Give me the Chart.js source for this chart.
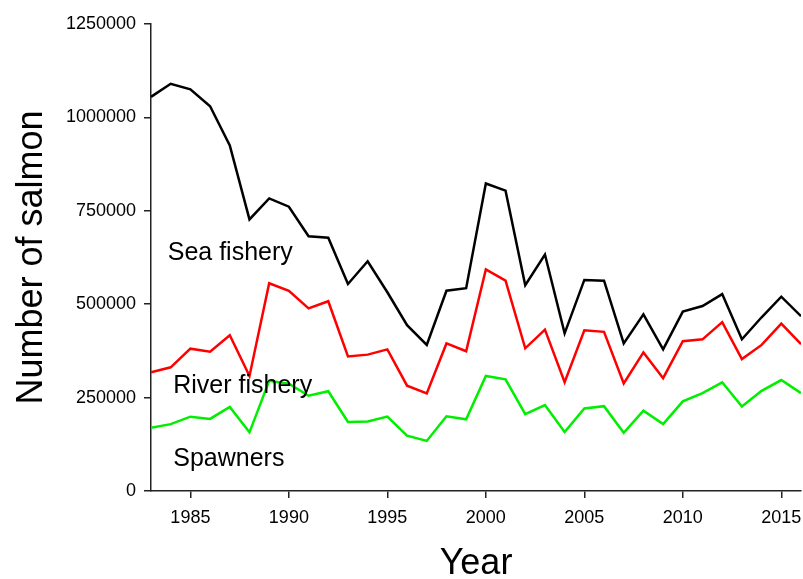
<!DOCTYPE html>
<html>
<head>
<meta charset="utf-8">
<script src="https://cdn.jsdelivr.net/npm/chart.js@4/dist/chart.umd.min.js"></script>
<style>
  html, body { margin: 0; padding: 0; background: #fff; }
  #wrap { width: 803px; height: 579px; }
</style>
</head>
<body>
<div id="wrap"><canvas id="c" width="803" height="579"></canvas></div>
<script>
// Annual salmon numbers by fate, 1983-2016
const years = [1983, 1984, 1985, 1986, 1987, 1988, 1989, 1990, 1991, 1992,
               1993, 1994, 1995, 1996, 1997, 1998, 1999, 2000, 2001, 2002,
               2003, 2004, 2005, 2006, 2007, 2008, 2009, 2010, 2011, 2012,
               2013, 2014, 2015, 2016];

const seaFishery = [1055000, 1090000, 1075000, 1030000, 925000, 727000, 783000, 761000, 682000, 678000,
                    554000, 615000, 532000, 444000, 391000, 536000, 543000, 823000, 804000, 551000,
                    633000, 422000, 565000, 563000, 395000, 473000, 379000, 480000, 495000, 527000,
                    406000, 465000, 520000, 468000];

const riverFishery = [318000, 331000, 381000, 373000, 417000, 308000, 556000, 536000, 489000, 508000,
                      360000, 365000, 379000, 282000, 261000, 395000, 374000, 593000, 563000, 382000,
                      432000, 291000, 430000, 426000, 288000, 371000, 302000, 401000, 406000, 452000,
                      353000, 391000, 448000, 393000];

const spawners = [169000, 179000, 199000, 193000, 225000, 157000, 295000, 287000, 255000, 267000,
                  185000, 186000, 199000, 148000, 134000, 200000, 192000, 308000, 299000, 206000,
                  230000, 158000, 221000, 227000, 156000, 215000, 179000, 240000, 262000, 291000,
                  226000, 268000, 297000, 262000];

const xTickYears = [1985, 1990, 1995, 2000, 2005, 2010, 2015];
const yTickValues = [0, 250000, 500000, 750000, 1000000, 1250000];
const seriesNames = ['Sea fishery', 'River fishery', 'Spawners'];

const FONT = 'Liberation Sans, Arial, Helvetica, sans-serif';

const toPoints = vals => vals.map((v, i) => ({ x: years[i], y: v }));

// Series names written inside the plot, next to the lines they describe
const seriesLabels = {
  id: 'seriesLabels',
  afterDatasetsDraw(chart) {
    const { ctx, scales: { x, y } } = chart;
    const anchors = [
      { text: seriesNames[0], x: 1983.85, y: 618000 },
      { text: seriesNames[1], x: 1984.13, y: 262000 },
      { text: seriesNames[2], x: 1984.13, y: 66000 }
    ];
    ctx.save();
    ctx.font = '25px ' + FONT;
    ctx.fillStyle = '#000';
    ctx.textAlign = 'left';
    ctx.textBaseline = 'alphabetic';
    anchors.forEach(a => ctx.fillText(a.text, x.getPixelForValue(a.x), y.getPixelForValue(a.y)));
    ctx.restore();
  }
};

new Chart(document.getElementById('c'), {
  type: 'line',
  data: {
    datasets: [
      { label: seriesNames[0], data: toPoints(seaFishery), borderColor: '#000000' },
      { label: seriesNames[1], data: toPoints(riverFishery), borderColor: '#ff0000' },
      { label: seriesNames[2], data: toPoints(spawners), borderColor: '#00ee00' }
    ]
  },
  options: {
    responsive: false,
    devicePixelRatio: 1,
    animation: false,
    layout: { padding: { top: 24, right: 2, bottom: 0, left: 0 } },
    elements: {
      line: { borderWidth: 2.5, tension: 0, fill: false },
      point: { radius: 0, hoverRadius: 0 }
    },
    plugins: { legend: { display: false }, tooltip: { enabled: false } },
    scales: {
      x: {
        type: 'linear',
        position: 'bottom',
        min: 1983,
        max: 2016,
        afterBuildTicks(scale) { scale.ticks = xTickYears.map(v => ({ value: v })); },
        afterFit(scale) {
          scale.height = 88;
          scale.paddingLeft = 0;
          scale.paddingRight = 0;
        },
        ticks: {
          color: '#000',
          font: { family: FONT, size: 18 },
          padding: 9,
          maxRotation: 0,
          autoSkip: false,
          callback: v => String(v)
        },
        grid: { display: true, drawOnChartArea: false, drawTicks: true, tickLength: 7, color: '#222', lineWidth: 1.5 },
        border: { display: true, color: '#222', width: 1.5 },
        title: {
          display: true,
          text: 'Year',
          color: '#000',
          font: { family: FONT, size: 36, lineHeight: 1 },
          padding: { top: 0, bottom: -3.5 }
        }
      },
      y: {
        type: 'linear',
        position: 'left',
        min: 0,
        max: 1250000,
        afterBuildTicks(scale) { scale.ticks = yTickValues.map(v => ({ value: v })); },
        afterFit(scale) {
          scale.width = 151;
          scale.paddingTop = 0;
          scale.paddingBottom = 0;
        },
        ticks: {
          color: '#000',
          font: { family: FONT, size: 18 },
          padding: 8,
          callback: v => String(v)
        },
        grid: { display: true, drawOnChartArea: false, drawTicks: true, tickLength: 7, color: '#222', lineWidth: 1.5 },
        border: { display: true, color: '#222', width: 1.5 },
        title: {
          display: true,
          text: 'Number of salmon',
          color: '#000',
          font: { family: FONT, size: 36, lineHeight: 1 },
          padding: { top: 14, bottom: 0 }
        }
      }
    }
  },
  plugins: [seriesLabels]
});
</script>
</body>
</html>
